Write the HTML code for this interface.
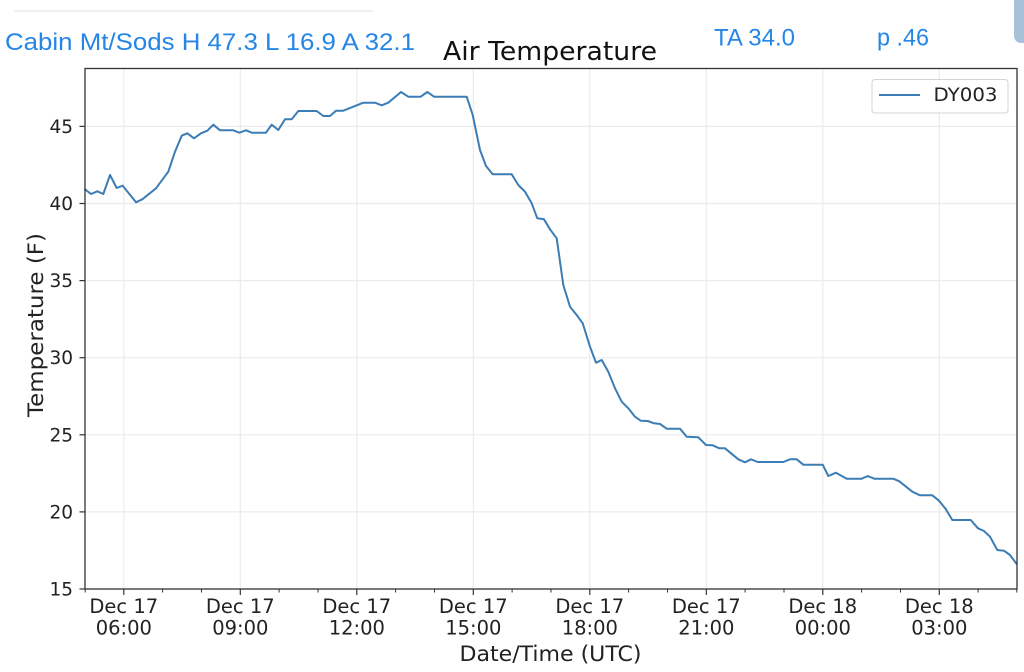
<!DOCTYPE html>
<html>
<head>
<meta charset="utf-8">
<style>
  html, body { margin:0; padding:0; background:#ffffff; }
  body { width:1024px; height:672px; overflow:hidden; }
  svg { display:block; }
</style>
</head>
<body>
<svg width="1024" height="672" viewBox="0 0 1024 672" xmlns="http://www.w3.org/2000/svg">
  <rect x="0" y="0" width="1024" height="672" fill="#ffffff"/>
  <!-- faint top line -->
  <line x1="14" y1="11" x2="373" y2="11" stroke="#ececec" stroke-width="1.5"/>
  <!-- top-right shape -->
  <path d="M1014,0 L1024,0 L1024,43 L1022,43 Q1014,43 1014,35 Z" fill="#a9c0d9"/>

  <!-- header texts -->
  <text x="5" y="50" font-family="Liberation Sans, sans-serif" font-size="24.5" fill="#2586e6" textLength="410" lengthAdjust="spacingAndGlyphs">Cabin Mt/Sods H 47.3 L 16.9 A 32.1</text>
  <text x="714" y="45.7" font-family="Liberation Sans, sans-serif" font-size="24.5" fill="#2586e6" textLength="81" lengthAdjust="spacingAndGlyphs">TA 34.0</text>
  <text x="877" y="45.7" font-family="Liberation Sans, sans-serif" font-size="24.5" fill="#2586e6" textLength="52" lengthAdjust="spacingAndGlyphs">p .46</text>

  <!-- title -->
  <text x="443" y="60" font-family="DejaVu Sans, sans-serif" font-size="25.5" fill="#111" textLength="214" lengthAdjust="spacingAndGlyphs">Air Temperature</text>

  <!-- grid -->
  <g stroke="#ebebeb" stroke-width="1.2">
    <line x1="85" y1="511.9" x2="1017" y2="511.9"/>
    <line x1="85" y1="434.8" x2="1017" y2="434.8"/>
    <line x1="85" y1="357.7" x2="1017" y2="357.7"/>
    <line x1="85" y1="280.6" x2="1017" y2="280.6"/>
    <line x1="85" y1="203.5" x2="1017" y2="203.5"/>
    <line x1="85" y1="126.4" x2="1017" y2="126.4"/>
    <line x1="123.8" y1="68" x2="123.8" y2="589"/>
    <line x1="240.3" y1="68" x2="240.3" y2="589"/>
    <line x1="356.8" y1="68" x2="356.8" y2="589"/>
    <line x1="473.3" y1="68" x2="473.3" y2="589"/>
    <line x1="589.8" y1="68" x2="589.8" y2="589"/>
    <line x1="706.3" y1="68" x2="706.3" y2="589"/>
    <line x1="822.8" y1="68" x2="822.8" y2="589"/>
    <line x1="939.3" y1="68" x2="939.3" y2="589"/>
  </g>

  <!-- data line -->
  <polyline fill="none" stroke="#3b7db4" stroke-width="2" stroke-linejoin="round" stroke-linecap="round"
    points="85,189.3 91,194 97.3,191.3 103.3,194 110,175 116.7,188 122.7,185.7 136,202.3 142.3,199.3 156,188.3 168.3,171.7 175,151.7 181.7,135.7 187.3,133.3 194,138.3 201,133.3 207.3,130.7 213.3,124.7 220,130.3 233.3,130.3 239.3,132.7 246,130.3 251.7,132.7 266,132.7 271.7,124.7 278.3,130 285,119.3 291.7,119.3 298.3,111 316.7,111 323.3,116 330,116 336,110.7 343.3,110.7 363.3,102.7 375,102.7 381.7,105.3 388.3,102.7 401,92 408.3,96.7 420.7,96.7 427.3,92 434,96.7 466.7,96.7 472.7,115 480,150 486,166 492.7,174.3 511.7,174.3 518.3,185 525,191.7 531.7,203.3 537.3,218.3 544,219.3 550,229.3 556.7,238.3 563.3,285 570,306.7 576.7,315 582.7,323.3 590,346.7 596,362.7 601.7,360 608.3,371.7 615,388.3 621.7,401.7 628.3,408.3 635,416.7 640.7,420.7 647.7,421 654,423.3 660,424 666.7,428.7 680,428.7 686.7,436.7 698.3,437.3 706,445 712.7,445.3 719.3,448.3 725,448.3 738.3,459.3 745,462.3 751,459.3 757.7,462 783.3,462 790,459.3 796.7,459.3 803.3,464.7 822.7,464.7 828.3,476 836,472.7 846.7,478.7 861.7,478.7 867.7,476 874.3,478.7 893.3,478.7 899.3,481.3 912.3,491.7 920,495.3 932.3,495.3 939,500.7 945.7,509 952.3,520 970.7,520 978,528.3 984,531 990,536.7 997.3,550 1004,550.7 1010,555 1016.7,564"/>

  <!-- axes frame -->
  <rect x="85" y="68.5" width="932" height="520.5" fill="none" stroke="#333" stroke-width="1.3"/>

  <!-- y ticks -->
  <g stroke="#333" stroke-width="1.2">
    <line x1="79.5" y1="589" x2="85" y2="589"/>
    <line x1="79.5" y1="511.9" x2="85" y2="511.9"/>
    <line x1="79.5" y1="434.8" x2="85" y2="434.8"/>
    <line x1="79.5" y1="357.7" x2="85" y2="357.7"/>
    <line x1="79.5" y1="280.6" x2="85" y2="280.6"/>
    <line x1="79.5" y1="203.5" x2="85" y2="203.5"/>
    <line x1="79.5" y1="126.4" x2="85" y2="126.4"/>
  </g>
  <g font-family="DejaVu Sans, sans-serif" font-size="18.5" fill="#222" text-anchor="end">
    <text x="73" y="595.5">15</text>
    <text x="73" y="518.4">20</text>
    <text x="73" y="441.3">25</text>
    <text x="73" y="364.2">30</text>
    <text x="73" y="287.1">35</text>
    <text x="73" y="210">40</text>
    <text x="73" y="132.9">45</text>
  </g>

  <!-- x ticks major -->
  <g stroke="#333" stroke-width="1.2">
    <line x1="123.8" y1="589" x2="123.8" y2="595"/>
    <line x1="240.3" y1="589" x2="240.3" y2="595"/>
    <line x1="356.8" y1="589" x2="356.8" y2="595"/>
    <line x1="473.3" y1="589" x2="473.3" y2="595"/>
    <line x1="589.8" y1="589" x2="589.8" y2="595"/>
    <line x1="706.3" y1="589" x2="706.3" y2="595"/>
    <line x1="822.8" y1="589" x2="822.8" y2="595"/>
    <line x1="939.3" y1="589" x2="939.3" y2="595"/>
  </g>
  <!-- x ticks minor -->
  <g stroke="#333" stroke-width="1">
    <line x1="85.2" y1="589" x2="85.2" y2="592.5"/>
    <line x1="162.6" y1="589" x2="162.6" y2="592.5"/>
    <line x1="201.5" y1="589" x2="201.5" y2="592.5"/>
    <line x1="279.1" y1="589" x2="279.1" y2="592.5"/>
    <line x1="318" y1="589" x2="318" y2="592.5"/>
    <line x1="395.6" y1="589" x2="395.6" y2="592.5"/>
    <line x1="434.5" y1="589" x2="434.5" y2="592.5"/>
    <line x1="512.1" y1="589" x2="512.1" y2="592.5"/>
    <line x1="551" y1="589" x2="551" y2="592.5"/>
    <line x1="628.6" y1="589" x2="628.6" y2="592.5"/>
    <line x1="667.5" y1="589" x2="667.5" y2="592.5"/>
    <line x1="745.1" y1="589" x2="745.1" y2="592.5"/>
    <line x1="784" y1="589" x2="784" y2="592.5"/>
    <line x1="861.6" y1="589" x2="861.6" y2="592.5"/>
    <line x1="900.5" y1="589" x2="900.5" y2="592.5"/>
    <line x1="978.1" y1="589" x2="978.1" y2="592.5"/>
    <line x1="1016.8" y1="589" x2="1016.8" y2="592.5"/>
  </g>

  <!-- x tick labels -->
  <g font-family="DejaVu Sans, sans-serif" font-size="19.5" fill="#222" text-anchor="middle">
    <text x="123.8" y="613">Dec 17</text><text x="123.8" y="634.5">06:00</text>
    <text x="240.3" y="613">Dec 17</text><text x="240.3" y="634.5">09:00</text>
    <text x="356.8" y="613">Dec 17</text><text x="356.8" y="634.5">12:00</text>
    <text x="473.3" y="613">Dec 17</text><text x="473.3" y="634.5">15:00</text>
    <text x="589.8" y="613">Dec 17</text><text x="589.8" y="634.5">18:00</text>
    <text x="706.3" y="613">Dec 17</text><text x="706.3" y="634.5">21:00</text>
    <text x="822.8" y="613">Dec 18</text><text x="822.8" y="634.5">00:00</text>
    <text x="939.3" y="613">Dec 18</text><text x="939.3" y="634.5">03:00</text>
  </g>

  <!-- axis labels -->
  <text x="459.5" y="661" font-family="DejaVu Sans, sans-serif" font-size="21" fill="#222" textLength="182" lengthAdjust="spacingAndGlyphs">Date/Time (UTC)</text>
  <text transform="translate(43,325) rotate(-90)" x="-92" y="0" font-family="DejaVu Sans, sans-serif" font-size="21" fill="#222" textLength="184" lengthAdjust="spacingAndGlyphs">Temperature (F)</text>

  <!-- legend -->
  <rect x="872" y="79.5" width="136" height="33.5" rx="3" ry="3" fill="#ffffff" fill-opacity="0.9" stroke="#d4d4d4" stroke-width="1"/>
  <line x1="879" y1="95" x2="920" y2="95" stroke="#3b7db4" stroke-width="2"/>
  <text x="933.5" y="101" font-family="DejaVu Sans, sans-serif" font-size="18.5" fill="#222" textLength="64" lengthAdjust="spacingAndGlyphs">DY003</text>
</svg>
</body>
</html>
